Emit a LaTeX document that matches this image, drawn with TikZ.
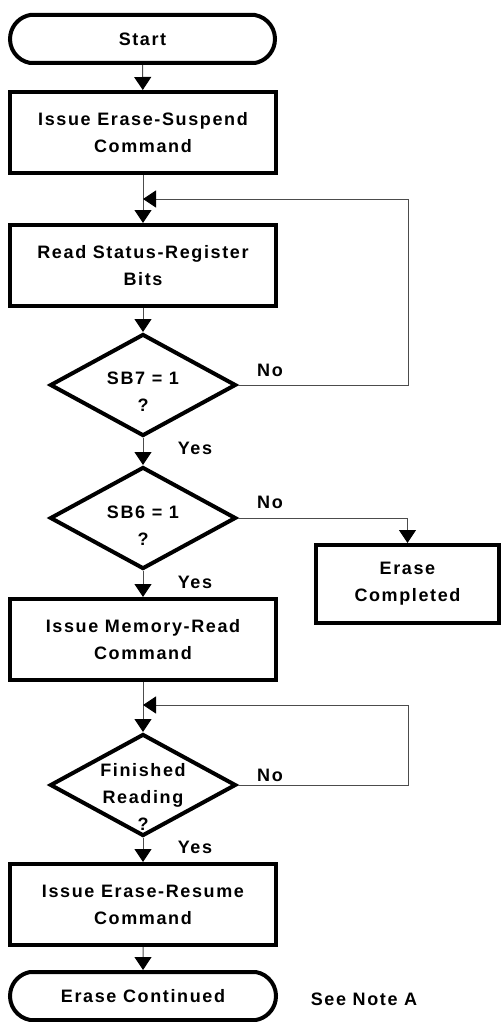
\documentclass[tikz,border=0pt]{standalone}
\usepackage{fontspec}
\setmainfont{Liberation Sans}
\newfontfamily\flowfont{Liberation Sans Bold}[LetterSpace=9]
\usetikzlibrary{shapes.geometric,shapes.misc,arrows.meta}
\begin{document}
\begin{tikzpicture}[x=1pt,y=-1pt,
  txt/.style={font=\flowfont\fontsize{18}{27}\selectfont, align=center, inner sep=0pt},
  procbox/.style={draw, line width=4pt, minimum width=266pt, minimum height=81pt, inner sep=0pt, txt},
  termbox/.style={draw, line width=4pt, rounded rectangle, rounded rectangle arc length=160, minimum width=265pt, minimum height=48pt, inner sep=0pt, txt},
  decbox/.style={draw, line width=4pt, diamond, minimum width=186pt, minimum height=102pt, inner sep=0pt},
  conn/.style={draw=black!70, line width=1pt, -{Triangle[length=13pt,width=17pt,color=black]}},
  lbl/.style={txt}
]
\useasboundingbox (0,0) rectangle (501,1022);
% nodes
\node[termbox] (start) at (142.5,39) {Start};
\node[procbox] (b1) at (143,132.5) {Issue Erase-Suspend\\Command};
\node[procbox] (b2) at (143,265.5) {Read Status-Register\\Bits};
\node[decbox] (d1) at (143,385) {};
\node[txt] (t1) at (143,392) {SB7 = 1\\?};
\node[decbox] (d2) at (143,518) {};
\node[txt] (t2) at (143,526) {SB6 = 1\\?};
\node[procbox, minimum width=183pt, minimum height=78pt] (ec) at (407.5,584) {Erase\\Completed};
\node[procbox] (b3) at (143,639.5) {Issue Memory-Read\\Command};
\node[decbox] (d3) at (143,785) {};
\node[txt] (t3) at (143,797) {Finished\\Reading\\?};
\node[procbox] (b4) at (143,904.5) {Issue Erase-Resume\\Command};
\node[termbox, minimum width=266pt] (end) at (143,996) {Erase Continued};
% labels
\node[lbl] (no1) at (270,370) {No};
\node[lbl] (yes1) at (195,448) {Yes};
\node[lbl] (no2) at (270,502) {No};
\node[lbl] (yes2) at (195,582) {Yes};
\node[lbl] (no3) at (270,775) {No};
\node[lbl] (yes3) at (195,847) {Yes};
\node[lbl] (note) at (364,999) {See Note A};
% coordinates
\coordinate (j1) at (143,199);
\coordinate (r1) at (408,199);
\coordinate (j2) at (143,705);
\coordinate (r2) at (408,705);
% connectors
\draw[conn] (start) -- (b1);
\draw[conn] (b1) -- (b2);
\draw[conn] (b2) -- (d1);
\draw[conn] (d1) -- (d2);
\draw[conn] (d2) -- (b3);
\draw[conn] (b3) -- (d3);
\draw[conn] (d3) -- (b4);
\draw[conn] (b4) -- (end);
\draw[conn] (d1.east) -| (r1) -- (j1);
\draw[conn] (d2.east) -| (ec.north);
\draw[conn] (d3.east) -| (r2) -- (j2);
\end{tikzpicture}
\end{document}
